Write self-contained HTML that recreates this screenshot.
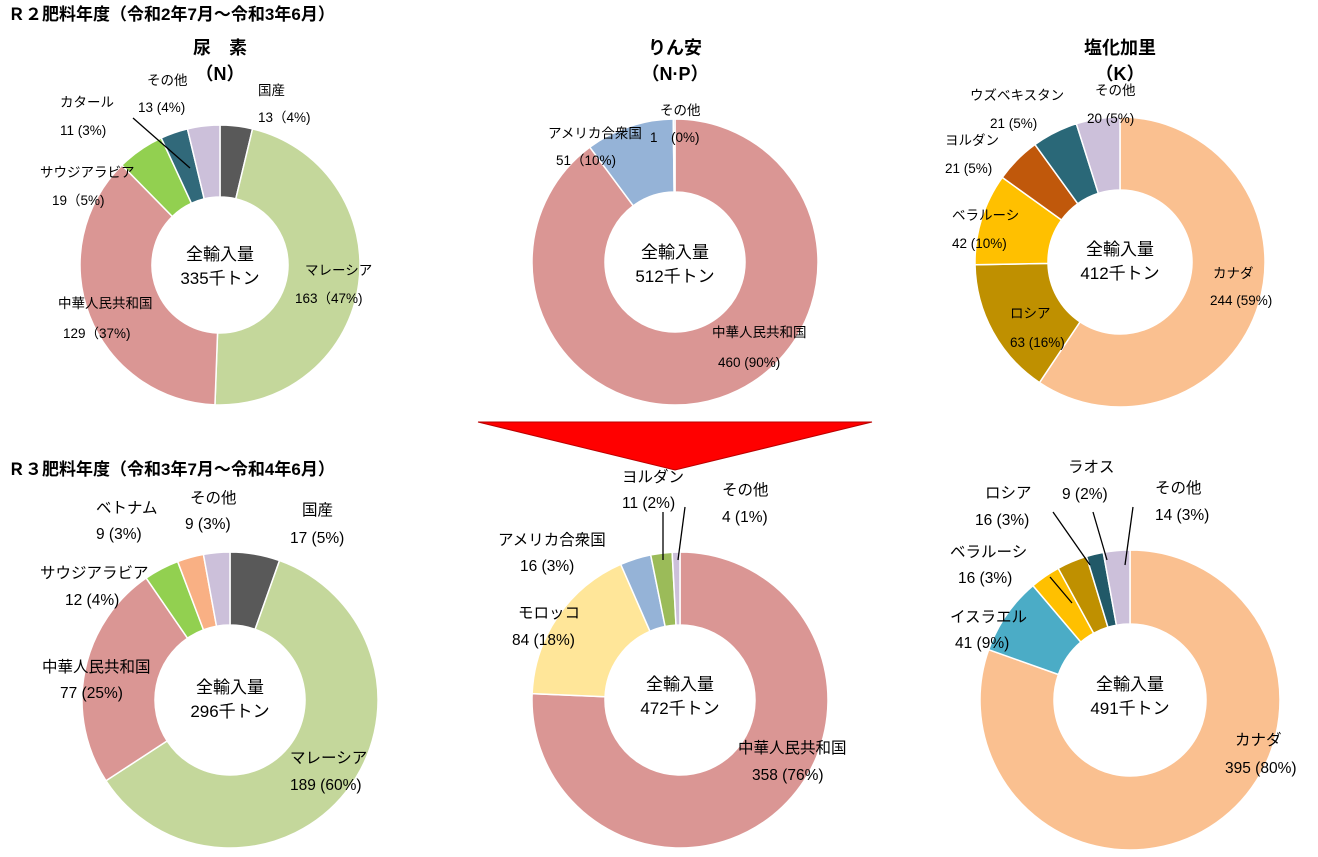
<!DOCTYPE html>
<html><head><meta charset="utf-8">
<style>
html,body{margin:0;padding:0;background:#fff;width:1318px;height:857px;overflow:hidden}
svg text{font-family:"Liberation Sans","Noto Sans CJK JP",sans-serif;fill:#000}
.t{font-weight:bold;font-size:17px}
.h{font-weight:bold;font-size:18px}
.c{font-size:17px}
.s{font-size:13.5px}
.m{font-size:15.5px}
</style></head><body>
<svg id="g" width="1318" height="857" xmlns="http://www.w3.org/2000/svg">
<text class="t" x="8" y="20">Ｒ２肥料年度（令和2年7月～令和3年6月）</text>
<text class="t" x="8" y="475">Ｒ３肥料年度（令和3年7月～令和4年6月）</text>
<text class="h" x="220" y="54" text-anchor="middle">尿　素</text>
<text class="h" x="220" y="80" text-anchor="middle">（N）</text>
<text class="h" x="675" y="54" text-anchor="middle">りん安</text>
<text class="h" x="675" y="80" text-anchor="middle">（N·P）</text>
<text class="h" x="1120" y="54" text-anchor="middle">塩化加里</text>
<text class="h" x="1120" y="80" text-anchor="middle">（K）</text>
<polygon points="478,422 872,422 675,470" fill="#ff0000" stroke="#b00" stroke-width="1"/>
<g id="pies"></g>
<g stroke="#000" stroke-width="1.3" fill="none">
<line x1="133" y1="118" x2="190" y2="168"/>
<line x1="663" y1="512" x2="663" y2="560"/>
<line x1="685" y1="507" x2="678" y2="560"/>
<line x1="1053" y1="512" x2="1090" y2="565"/>
<line x1="1093" y1="512" x2="1107" y2="560"/>
<line x1="1133" y1="507" x2="1125" y2="565"/>
<line x1="1050" y1="577" x2="1072" y2="603"/>
</g>
<g class="s">
<text x="147" y="85">その他</text><text x="138" y="112">13 (4%)</text>
<text x="258" y="95">国産</text><text x="258" y="122">13（4%)</text>
<text x="60" y="107">カタール</text><text x="60" y="135">11 (3%)</text>
<text x="40" y="177">サウジアラビア</text><text x="52" y="205">19（5%)</text>
<text x="305" y="275">マレーシア</text><text x="295" y="303">163（47%)</text>
<text x="58" y="308">中華人民共和国</text><text x="63" y="338">129（37%)</text>
<text x="660" y="115">その他</text><text x="650" y="142">1　(0%)</text>
<text x="548" y="138">アメリカ合衆国</text><text x="556" y="165">51（10%)</text>
<text x="712" y="337">中華人民共和国</text><text x="718" y="367">460 (90%)</text>
<text x="970" y="100">ウズベキスタン</text><text x="990" y="128">21 (5%)</text>
<text x="1095" y="95">その他</text><text x="1087" y="123">20 (5%)</text>
<text x="945" y="145">ヨルダン</text><text x="945" y="173">21 (5%)</text>
<text x="952" y="220">ベラルーシ</text><text x="952" y="248">42 (10%)</text>
<text x="1010" y="318">ロシア</text><text x="1010" y="347">63 (16%)</text>
<text x="1213" y="278">カナダ</text><text x="1210" y="305">244 (59%)</text>
</g>
<g class="m">
<text x="96" y="513">ベトナム</text><text x="96" y="539">9 (3%)</text>
<text x="190" y="503">その他</text><text x="185" y="529">9 (3%)</text>
<text x="302" y="515">国産</text><text x="290" y="543">17 (5%)</text>
<text x="40" y="578">サウジアラビア</text><text x="65" y="605">12 (4%)</text>
<text x="42" y="672">中華人民共和国</text><text x="60" y="698">77 (25%)</text>
<text x="290" y="763">マレーシア</text><text x="290" y="790">189 (60%)</text>
<text x="622" y="482">ヨルダン</text><text x="622" y="508">11 (2%)</text>
<text x="722" y="495">その他</text><text x="722" y="522">4 (1%)</text>
<text x="498" y="545">アメリカ合衆国</text><text x="520" y="571">16 (3%)</text>
<text x="518" y="618">モロッコ</text><text x="512" y="645">84 (18%)</text>
<text x="738" y="753">中華人民共和国</text><text x="752" y="780">358 (76%)</text>
<text x="1068" y="472">ラオス</text><text x="1062" y="499">9 (2%)</text>
<text x="985" y="498">ロシア</text><text x="975" y="525">16 (3%)</text>
<text x="1155" y="493">その他</text><text x="1155" y="520">14 (3%)</text>
<text x="950" y="557">ベラルーシ</text><text x="958" y="583">16 (3%)</text>
<text x="950" y="622">イスラエル</text><text x="955" y="648">41 (9%)</text>
<text x="1235" y="745">カナダ</text><text x="1225" y="773">395 (80%)</text>
</g>
<g class="c" text-anchor="middle">
<text x="220" y="260">全輸入量</text><text x="220" y="284">335千トン</text>
<text x="675" y="258">全輸入量</text><text x="675" y="282">512千トン</text>
<text x="1120" y="255">全輸入量</text><text x="1120" y="279">412千トン</text>
<text x="230" y="693">全輸入量</text><text x="230" y="717">296千トン</text>
<text x="680" y="690">全輸入量</text><text x="680" y="714">472千トン</text>
<text x="1130" y="690">全輸入量</text><text x="1130" y="714">491千トン</text>
</g>
</svg>
<script>
var P='#da9694',G='#c4d79b',D='#595959',GR='#92d050',T='#31697a',L='#ccc0da',B='#95b3d7',O='#fac090',Y='#ffe699';
var charts=[
[220,265,140,68,[[13,D],[163,G],[129,P],[19,GR],[11,T],[13,L]]],
[675,262,143,70,[[460,P],[51,B],[1,L]]],
[1120,262,145,72,[[244,O],[63,'#bf9000'],[42,'#ffc000'],[21,'#c0580b'],[21,'#2a6878'],[20,L]]],
[230,700,148,75,[[17,D],[189,G],[77,P],[12,GR],[9,'#f9b084'],[9,L]]],
[680,700,148,75,[[358,P],[84,Y],[16,B],[11,'#9bbb59'],[4,L]]],
[1130,700,150,76,[[395,O],[41,'#4bacc6'],[16,'#ffc000'],[16,'#bf9000'],[9,'#215968'],[14,L]]]
];
var out='';
charts.forEach(function(c){
 var cx=c[0],cy=c[1],R=c[2],r=c[3],d=c[4],tot=0;d.forEach(function(e){tot+=e[0]});
 var a=0;
 d.forEach(function(e){
  var a0=a/tot*2*Math.PI,a1=(a+e[0])/tot*2*Math.PI;a+=e[0];
  var lg=(a1-a0)>Math.PI?1:0;
  function pt(rr,t){return (cx+rr*Math.sin(t)).toFixed(2)+','+(cy-rr*Math.cos(t)).toFixed(2)}
  out+='<path d="M'+pt(R,a0)+' A'+R+','+R+' 0 '+lg+' 1 '+pt(R,a1)+' L'+pt(r,a1)+' A'+r+','+r+' 0 '+lg+' 0 '+pt(r,a0)+' Z" fill="'+e[1]+'" stroke="#fff" stroke-width="1.5"/>';
 });
});
document.getElementById('pies').innerHTML=out;
</script>
</body></html>
